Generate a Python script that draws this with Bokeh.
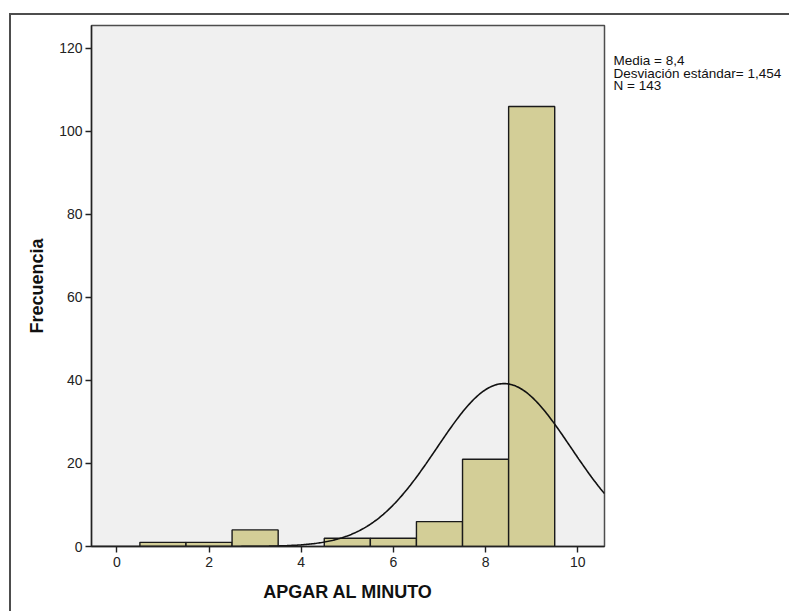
from bokeh.plotting import figure
from bokeh.layouts import row
from bokeh.models import Range1d, FixedTicker, Label, ColumnDataSource
from bokeh.embed import file_html
from bokeh.resources import INLINE
import numpy as np

# ---- data ----
apgar_values = [1, 2, 3, 4, 5, 6, 7, 8, 9]
frequencies = [1, 1, 4, 0, 2, 2, 6, 21, 106]
mean_val = 8.4
std_val = 1.454
n_total = 143
x_ticks = [0, 2, 4, 6, 8, 10]
y_ticks = [0, 20, 40, 60, 80, 100, 120]
stat_lines = ["Media = 8,4", "Desviación estándar= 1,454", "N = 143"]

FONT = "Liberation Sans"
X_LO, X_HI = -0.55, 10.58
Y_LO, Y_HI = 0, 125.5

# ---- histogram figure ----
p = figure(width=595, height=596, output_backend="svg", toolbar_location=None,
           x_range=Range1d(X_LO, X_HI), y_range=Range1d(Y_LO, Y_HI),
           min_border_left=80, min_border_right=2, min_border_top=10, min_border_bottom=65)
p.background_fill_color = "#F0F0F0"
p.border_fill_color = "white"
p.outline_line_color = "#4d4d4d"
p.outline_line_width = 1.5
p.grid.visible = False

bx = [v for v, c in zip(apgar_values, frequencies) if c > 0]
bc = [c for c in frequencies if c > 0]
src = ColumnDataSource(dict(left=[v - 0.5 for v in bx], right=[v + 0.5 for v in bx],
                            top=bc, bottom=[0] * len(bx)))
p.quad(left="left", right="right", top="top", bottom="bottom", source=src,
       fill_color="#D3CE97", line_color="#1a1a1a", line_width=1.4)

# fitted normal curve (from mean, sd and N with bin width 1)
xs = np.linspace(X_LO, X_HI, 400)
ys = n_total * 1.0 / (std_val * np.sqrt(2 * np.pi)) * np.exp(-0.5 * ((xs - mean_val) / std_val) ** 2)
p.line(xs, ys, line_color="#111111", line_width=1.6)

for ax in (p.xaxis[0], p.yaxis[0]):
    ax.axis_line_color = "#222222"
    ax.axis_line_width = 1.4
    ax.major_tick_line_color = "#222222"
    ax.major_tick_line_width = 1.4
    ax.major_tick_out = 6
    ax.major_tick_in = 0
    ax.minor_tick_line_color = None
    ax.major_label_text_font = FONT
    ax.major_label_text_font_size = "14px"
    ax.major_label_text_color = "#222222"
    ax.axis_label_text_font = FONT
    ax.axis_label_text_font_style = "bold"
    ax.axis_label_text_font_size = "18px"
    ax.axis_label_text_color = "#111111"

p.xaxis.ticker = FixedTicker(ticks=x_ticks)
p.yaxis.ticker = FixedTicker(ticks=y_ticks)
p.xaxis.axis_label = "APGAR AL MINUTO"
p.yaxis.axis_label = "Frecuencia"
p.xaxis.major_label_standoff = 4
p.xaxis.axis_label_standoff = 12
p.yaxis.major_label_standoff = 3
p.yaxis.axis_label_standoff = 9

# ---- statistics panel to the right ----
s = figure(width=183, height=596, output_backend="svg", toolbar_location=None,
           x_range=Range1d(0, 1), y_range=Range1d(0, 1),
           x_axis_type=None, y_axis_type=None,
           min_border_left=0, min_border_right=0, min_border_top=0, min_border_bottom=0)
s.outline_line_color = None
s.grid.visible = False
s.background_fill_color = "white"
s.border_fill_color = "white"
for i, t in enumerate(stat_lines):
    s.add_layout(Label(x=7, y=45 + i * 12.7, x_units="canvas", y_units="canvas", text=t,
                       text_font=FONT, text_font_size="13.5px", text_color="#111111",
                       text_baseline="middle", text_align="left"))

layout = row(p, s, spacing=0,
             styles={"margin-left": "9px", "margin-top": "13px",
                     "border-left": "2px solid #4d4d4d", "border-top": "2px solid #4d4d4d"})

open("out.html", "w").write(file_html(layout, INLINE))
